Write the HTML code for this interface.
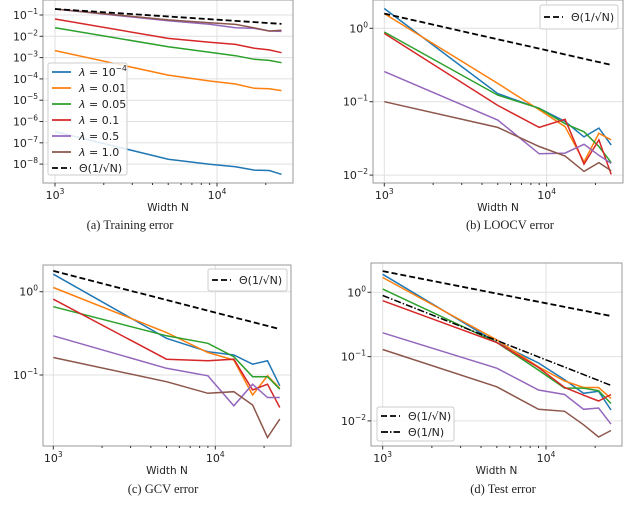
<!DOCTYPE html>
<html><head><meta charset="utf-8"><style>
html,body{margin:0;padding:0;background:#fff;}
svg{display:block;font-family:"DejaVu Sans","Liberation Sans",sans-serif;}
.cap{font-family:"Liberation Serif",serif;font-size:12.5px;}
</style></head><body>
<svg id="fig" width="640" height="508" viewBox="0 0 640 508"></svg>
<script>
const widths = [1000,5000,9000,13000,17000,21000,25000];
const seriesNames = ["lambda-1e-4","lambda-0.01","lambda-0.05","lambda-0.1","lambda-0.5","lambda-1.0"];
const seriesColors = ["#1f77b4","#ff7f0e","#2ca02c","#d62728","#9467bd","#8c564b"];
const legendLabels = ["10","0.01","0.05","0.1","0.5","1.0"];
// log10 values
const trainLog = [
 [-6.48,-7.77,-8.01,-8.12,-8.28,-8.3,-8.48],
 [-2.67,-3.82,-4.1,-4.24,-4.44,-4.46,-4.55],
 [-1.6,-2.49,-2.75,-2.91,-3.08,-3.13,-3.24],
 [-1.19,-2.1,-2.28,-2.38,-2.56,-2.64,-2.77],
 [-0.72,-1.27,-1.43,-1.6,-1.63,-1.75,-1.77],
 [-0.72,-1.23,-1.36,-1.44,-1.6,-1.75,-1.72]];
const loocvLog = [
 [0.27,-0.89,-1.09,-1.27,-1.48,-1.36,-1.59],
 [0.2,-0.75,-1.11,-1.34,-1.82,-1.43,-1.52],
 [-0.05,-0.91,-1.09,-1.3,-1.41,-1.61,-1.83],
 [-0.07,-1.05,-1.35,-1.24,-1.85,-1.52,-1.99],
 [-0.59,-1.25,-1.71,-1.7,-1.58,-1.73,-1.84],
 [-1.0,-1.35,-1.61,-1.74,-1.95,-1.83,-1.94]];
const gcvLog = [
 [0.21,-0.56,-0.72,-0.76,-0.87,-0.83,-1.13],
 [0.05,-0.49,-0.73,-0.82,-1.24,-1.01,-1.16],
 [-0.18,-0.53,-0.62,-0.78,-1.02,-1.02,-1.17],
 [-0.09,-0.81,-0.83,-0.81,-1.18,-1.11,-1.39],
 [-0.53,-0.92,-1.01,-1.37,-1.11,-1.27,-1.27],
 [-0.79,-1.08,-1.22,-1.2,-1.36,-1.75,-1.53]];
const testLog = [
 [0.28,-0.78,-1.1,-1.36,-1.57,-1.54,-1.83],
 [0.23,-0.74,-1.16,-1.38,-1.48,-1.48,-1.65],
 [0.05,-0.78,-1.21,-1.49,-1.49,-1.53,-1.73],
 [-0.13,-0.78,-1.17,-1.48,-1.6,-1.69,-1.59],
 [-0.63,-1.18,-1.52,-1.59,-1.82,-1.8,-2.05],
 [-0.89,-1.47,-1.82,-1.85,-2.06,-2.25,-2.15]];
const sqrtRefStart = [-0.72,0.2,0.25,0.33];
const linRefStart = -0.05;
const yTicksA = [-1,-2,-3,-4,-5,-6,-7,-8];
const yTicksB = [0,-1,-2];
const yTicksC = [0,-1];
const yTicksD = [0,-1,-2];

const NS="http://www.w3.org/2000/svg";
const svg=document.getElementById('fig');
function el(tag,attrs,parent){const e=document.createElementNS(NS,tag);for(const k in attrs)e.setAttribute(k,attrs[k]);(parent||svg).appendChild(e);return e;}
function pow10(g,x,y,exp,anchor){
  const t=el('text',{x:x,y:y,'font-size':'11','text-anchor':anchor,fill:'#222'},g);
  const a=document.createElementNS(NS,'tspan');a.textContent='10';t.appendChild(a);
  const b=document.createElementNS(NS,'tspan');b.setAttribute('dy','-5');b.setAttribute('font-size','7.5');b.textContent=String(exp).replace('-','\u2212');t.appendChild(b);
  return t;
}
function panel(cfg){
  const g=el('g',{});
  
  
  const X=n=>cfg.x3+(Math.log10(n)-3)*cfg.dx;
  const Y=l=>cfg.y0+(cfg.l0-l)*cfg.dy;
  [3,4].forEach(e=>{const gl=el('line',{x1:X(Math.pow(10,e)),x2:X(Math.pow(10,e)),y1:cfg.top,y2:cfg.bot,stroke:'#e0e0e0','stroke-width':1},g);});
  cfg.yt.forEach(l=>{const gl=el('line',{x1:cfg.left,x2:cfg.right,y1:Y(l),y2:Y(l),stroke:'#e0e0e0','stroke-width':1},g);});
  const data=cfg.data;
  data.forEach((s,i)=>{
    const p=el('polyline',{points:s.map((v,j)=>X(widths[j]).toFixed(1)+','+Y(v).toFixed(1)).join(' '),fill:'none',stroke:seriesColors[i],'stroke-width':1.5},g);
    
    
  });
  const d=el('polyline',{points:widths.map(n=>X(n).toFixed(1)+','+Y(cfg.ref-0.5*(Math.log10(n)-3)).toFixed(1)).join(' '),fill:'none',stroke:'#000','stroke-width':1.8,'stroke-dasharray':'6,3'},g);
  
  
  if(cfg.lin!==undefined){
    const d2=el('polyline',{points:widths.map(n=>X(n).toFixed(1)+','+Y(cfg.lin-(Math.log10(n)-3)).toFixed(1)).join(' '),fill:'none',stroke:'#000','stroke-width':1.5,'stroke-dasharray':'7,2,1.5,2'},g);
    
    
  }
  const f=el('rect',{x:cfg.left,y:cfg.top,width:cfg.right-cfg.left,height:cfg.bot-cfg.top,fill:'none',stroke:'#999','stroke-width':1},g);
  
  [3,4].forEach(e=>{const x=X(Math.pow(10,e));el('line',{x1:x,x2:x,y1:cfg.bot,y2:cfg.bot+3.5,stroke:'#333'},g);
    const t=pow10(g,x,cfg.bot+16,e,'middle');});
  [2,3,4,5,6,7,8,9,20].forEach(m=>{const x=X(m*1000);if(x<cfg.right)el('line',{x1:x,x2:x,y1:cfg.bot,y2:cfg.bot+2,stroke:'#333'},g);});
  cfg.yt.forEach(l=>{const y=Y(l);el('line',{x1:cfg.left-3.5,x2:cfg.left,y1:y,y2:y,stroke:'#333'},g);
    const t=pow10(g,cfg.left-5,y+4,l,'end');});
  const xl=el('text',{x:(cfg.left+cfg.right)/2,y:cfg.bot+28,'font-size':'10.5','text-anchor':'middle',fill:'#222'},g);xl.textContent='Width N';
  
  const cp=el('text',{x:cfg.capx,y:cfg.capy,'text-anchor':'middle','class':'cap',fill:'#222'},g);cp.textContent=cfg.cap;
  
  return g;
}
function legendBox(g,x,y,w,h){return el('rect',{x:x,y:y,width:w,height:h,rx:2,fill:'#fff','fill-opacity':0.85,stroke:'#ccc'},g);}
function legendEntry(g,x,y,color,dash){
  const l=el('line',{x1:x,x2:x+19,y1:y,y2:y,stroke:color,'stroke-width':1.8},g);
  if(dash)l.setAttribute('stroke-dasharray',dash);
  return el('text',{x:x+27,y:y+4,'font-size':'11',fill:'#222'},g);
}
function sqrtLabel(t){t.textContent='\u0398(1/\u221AN)';}

const gA=panel({name:'training-error-panel',left:43,right:293,top:0,bot:183,x3:55,dx:162,y0:15,l0:-1,dy:21.3,yt:yTicksA,data:trainLog,ref:sqrtRefStart[0],cap:'(a) Training error',capx:130,capy:229});
const gB=panel({name:'loocv-error-panel',left:373,right:623,top:0,bot:183,x3:384.3,dx:162.3,y0:28.3,l0:0,dy:73.4,yt:yTicksB,data:loocvLog,ref:sqrtRefStart[1],cap:'(b) LOOCV error',capx:510,capy:229});
const gC=panel({name:'gcv-error-panel',left:43,right:291,top:265,bot:446,x3:53.3,dx:162,y0:291.7,l0:0,dy:83.3,yt:yTicksC,data:gcvLog,ref:sqrtRefStart[2],cap:'(c) GCV error',capx:163,capy:493});
const gD=panel({name:'test-error-panel',left:371,right:622,top:263,bot:446,x3:382.7,dx:163.3,y0:292.3,l0:0,dy:64.3,yt:yTicksD,data:testLog,ref:sqrtRefStart[3],lin:linRefStart,cap:'(d) Test error',capx:503,capy:493});

let lg=el('g',{},gA);
legendBox(lg,48,63,79,112);
seriesColors.forEach((c,i)=>{const t=legendEntry(lg,52,72+i*16,c,null);
  const a=document.createElementNS(NS,'tspan');a.setAttribute('font-style','italic');a.textContent='\u03BB';t.appendChild(a);
  const b=document.createElementNS(NS,'tspan');b.textContent=' = '+legendLabels[i];t.appendChild(b);
  if(i===0){const s=document.createElementNS(NS,'tspan');s.setAttribute('dy','-5');s.setAttribute('font-size','7.5');s.textContent='\u22124';t.appendChild(s);}
  });
sqrtLabel(legendEntry(lg,52,168,'#000','6,3'));

lg=el('g',{},gB);
legendBox(lg,540,5,78,24);sqrtLabel(legendEntry(lg,544,17,'#000','6,3'));
lg=el('g',{},gC);
legendBox(lg,208,269,79,22);sqrtLabel(legendEntry(lg,212,280,'#000','6,3'));
lg=el('g',{},gD);
legendBox(lg,377,407,77,34);sqrtLabel(legendEntry(lg,381,416,'#000','6,3'));
legendEntry(lg,381,432,'#000','7,2,1.5,2').textContent='\u0398(1/N)';
</script>
</body></html>
